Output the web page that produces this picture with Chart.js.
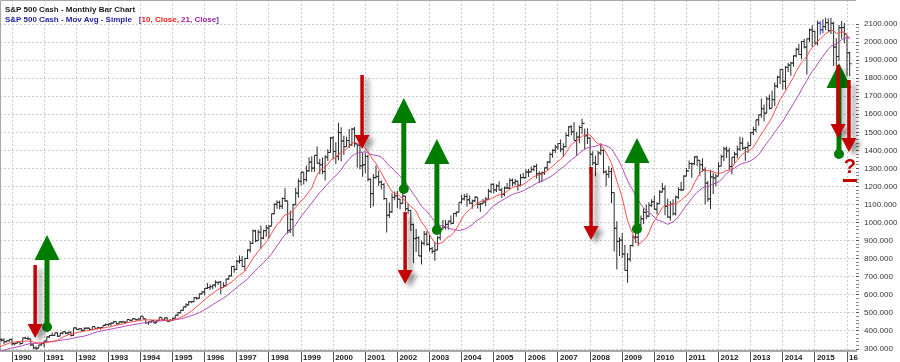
<!DOCTYPE html>
<html lang="en">
<head>
<meta charset="UTF-8">
<title>S&amp;P 500 Cash - Monthly Bar Chart</title>
<script src="https://cdn.jsdelivr.net/npm/chart.js@4.4.0/dist/chart.umd.min.js"></script>
<style>
    body { margin: 0; background: #fff; }
    #wrap { position: relative; width: 900px; height: 362px; }
    #myChart { display: block; }
    #legend {
        position: absolute; left: 5px; top: 5px;
        font: bold 8px 'Liberation Sans', Arial, sans-serif; line-height: 10px;
        white-space: nowrap;
    }
</style>
</head>
<body>
<div id="wrap">
    <canvas id="myChart" width="900" height="362"></canvas>
    <div id="legend">
        <div style="color:#1a1a1a">S&amp;P 500 Cash - Monthly Bar Chart</div>
        <div><span style="color:#1f1f9e">S&amp;P 500 Cash - Mov Avg - Simple</span><span style="margin-left:7px;color:#6a2fa8">[</span><span style="color:#ff1a1a">10, Close, </span><span style="color:#a020a0">21, Close</span><span style="color:#6a2fa8">]</span></div>
    </div>
</div>

<script>
// monthly bars, first one is Nov 1987 (earlier months only feed the averages)
const startYear = 1987, startMonth = 11;

const closes = [
    230.30, 247.08,
    257.07, 267.82, 258.89, 261.33, 262.16, 273.50, 272.02, 261.52, 271.91, 278.97, 273.70, 277.72,
    297.47, 288.86, 294.87, 309.64, 320.52, 317.98, 346.08, 351.45, 349.15, 340.36, 345.99, 353.40,
    329.08, 331.89, 339.94, 330.80, 361.23, 358.02, 356.15, 322.56, 306.05, 304.00, 322.22, 330.22,
    343.93, 367.07, 375.22, 375.35, 389.83, 371.16, 387.81, 395.43, 387.86, 392.45, 375.22, 417.09,
    408.79, 412.70, 403.69, 414.95, 415.35, 408.14, 424.21, 414.03, 417.80, 418.68, 431.35, 435.71,
    438.78, 443.38, 451.67, 440.19, 450.19, 450.53, 448.13, 463.56, 458.93, 467.83, 461.79, 466.45,
    481.61, 467.14, 445.77, 450.91, 456.50, 444.27, 458.26, 475.49, 462.69, 472.35, 453.69, 459.27,
    470.42, 487.39, 500.71, 514.71, 533.40, 544.75, 562.06, 561.88, 584.41, 581.50, 605.37, 615.93,
    636.02, 640.43, 645.50, 654.17, 669.12, 670.63, 639.95, 651.99, 687.31, 705.27, 757.02, 740.74,
    786.16, 790.82, 757.12, 801.34, 848.28, 885.14, 954.29, 899.47, 947.28, 914.62, 955.40, 970.43,
    980.28, 1049.34, 1101.75, 1111.75, 1090.82, 1133.84, 1120.67, 957.28, 1017.01, 1098.67, 1163.63, 1229.23,
    1279.64, 1238.33, 1286.37, 1335.18, 1301.84, 1372.71, 1328.72, 1320.41, 1282.71, 1362.93, 1388.91, 1469.25,
    1394.46, 1366.42, 1498.58, 1452.43, 1420.60, 1454.60, 1430.83, 1517.68, 1436.51, 1429.40, 1314.95, 1320.28,
    1366.01, 1239.94, 1160.33, 1249.46, 1255.82, 1224.42, 1211.23, 1133.58, 1040.94, 1059.78, 1139.45, 1148.08,
    1130.20, 1106.73, 1147.39, 1076.92, 1067.14, 989.82, 911.62, 916.07, 815.28, 885.76, 936.31, 879.82,
    855.70, 841.15, 848.18, 916.92, 963.59, 974.50, 990.31, 1008.01, 995.97, 1050.71, 1058.20, 1111.92,
    1131.13, 1144.94, 1126.21, 1107.30, 1120.68, 1140.84, 1101.72, 1104.24, 1114.58, 1130.20, 1173.82, 1211.92,
    1181.27, 1203.60, 1180.59, 1156.85, 1191.50, 1191.33, 1234.18, 1220.33, 1228.81, 1207.01, 1249.48, 1248.29,
    1280.08, 1280.66, 1294.83, 1310.61, 1270.09, 1270.20, 1276.66, 1303.82, 1335.85, 1377.94, 1400.63, 1418.30,
    1438.24, 1406.82, 1420.86, 1482.37, 1530.62, 1503.35, 1455.27, 1473.99, 1526.75, 1549.38, 1481.14, 1468.36,
    1378.55, 1330.63, 1322.70, 1385.59, 1400.38, 1280.00, 1267.38, 1282.83, 1166.36, 968.75, 896.24, 903.25,
    825.88, 735.09, 797.87, 872.81, 919.14, 919.32, 987.48, 1020.62, 1057.08, 1036.19, 1095.63, 1115.10,
    1073.87, 1104.49, 1169.43, 1186.69, 1089.41, 1030.71, 1101.60, 1049.33, 1141.20, 1183.26, 1180.55, 1257.64,
    1286.12, 1327.22, 1325.83, 1363.61, 1345.20, 1320.64, 1292.28, 1218.89, 1131.42, 1253.30, 1246.96, 1257.60,
    1312.41, 1365.68, 1408.47, 1397.91, 1310.33, 1362.16, 1379.32, 1406.58, 1440.67, 1412.16, 1416.18, 1426.19,
    1498.11, 1514.68, 1569.19, 1597.57, 1630.74, 1606.28, 1685.73, 1632.97, 1681.55, 1756.54, 1805.81, 1848.36,
    1782.59, 1859.45, 1872.34, 1883.95, 1923.57, 1960.23, 1930.67, 2003.37, 1972.29, 2018.05, 2067.56, 2058.90,
    1994.99, 2104.50, 2067.89, 2085.51, 2107.39, 2063.11, 2103.84, 1972.18, 1920.03, 2079.36, 2080.41, 2043.94,
    1940.24, 1880.00
];

const highs = [
    255, 249,
    260, 268, 271, 263, 263, 274, 274, 273, 273, 283, 279, 283,
    298, 300, 298, 310, 323, 326, 346, 354, 359, 360, 347, 354,
    360, 334, 345, 345, 362, 368, 369, 357, 325, 315, 324, 334,
    345, 370, 378, 392, 390, 392, 390, 397, 396, 395, 398, 418,
    421, 414, 414, 419, 420, 418, 425, 425, 423, 419, 431, 442,
    442, 448, 456, 451, 453, 452, 452, 464, 463, 470, 469, 467,
    482, 482, 468, 452, 458, 459, 459, 476, 476, 474, 474, 466,
    472, 489, 503, 515, 534, 553, 564, 565, 587, 587, 609, 622,
    638, 665, 658, 657, 681, 673, 677, 670, 690, 707, 758, 762,
    794, 818, 815, 805, 853, 898, 962, 961, 961, 984, 961, 987,
    987, 1050, 1106, 1124, 1122, 1139, 1190, 1121, 1066, 1104, 1193, 1244,
    1280, 1280, 1316, 1362, 1368, 1373, 1421, 1352, 1361, 1373, 1408, 1474,
    1478, 1445, 1553, 1528, 1481, 1475, 1518, 1525, 1530, 1437, 1432, 1389,
    1384, 1377, 1245, 1269, 1316, 1287, 1233, 1220, 1134, 1111, 1163, 1173,
    1176, 1131, 1173, 1147, 1107, 1070, 994, 965, 925, 900, 954, 954,
    935, 865, 896, 924, 965, 1015, 1015, 1011, 1040, 1054, 1062, 1112,
    1155, 1159, 1163, 1150, 1128, 1146, 1141, 1110, 1131, 1142, 1188, 1217,
    1218, 1212, 1229, 1192, 1200, 1220, 1246, 1245, 1243, 1233, 1270, 1276,
    1295, 1297, 1311, 1319, 1326, 1284, 1283, 1306, 1340, 1389, 1407, 1431,
    1441, 1461, 1439, 1499, 1535, 1540, 1556, 1504, 1538, 1576, 1521, 1523,
    1471, 1396, 1370, 1397, 1440, 1405, 1292, 1314, 1304, 1167, 1007, 919,
    943, 876, 832, 877, 930, 956, 996, 1039, 1080, 1101, 1113, 1130,
    1150, 1113, 1181, 1220, 1206, 1132, 1120, 1130, 1150, 1196, 1227, 1263,
    1302, 1344, 1333, 1367, 1371, 1346, 1357, 1307, 1230, 1293, 1278, 1270,
    1334, 1378, 1420, 1422, 1415, 1363, 1392, 1427, 1475, 1471, 1420, 1448,
    1504, 1531, 1570, 1598, 1687, 1654, 1698, 1710, 1730, 1776, 1814, 1849,
    1851, 1868, 1884, 1891, 1925, 1968, 1991, 2005, 2019, 2019, 2075, 2093,
    2064, 2120, 2117, 2126, 2135, 2130, 2133, 2113, 2021, 2094, 2117, 2105,
    2038, 1947
];

const lows = [
    223, 223,
    243, 250, 256, 252, 253, 260, 263, 256, 261, 271, 264, 271,
    276, 286, 286, 293, 306, 312, 318, 340, 342, 328, 336, 340,
    320, 320, 332, 322, 330, 355, 352, 317, 300, 295, 303, 321,
    309, 341, 363, 372, 372, 367, 371, 380, 383, 377, 370, 372,
    407, 404, 400, 398, 410, 403, 406, 412, 408, 407, 418, 427,
    427, 429, 441, 436, 437, 443, 442, 447, 455, 458, 461, 460,
    464, 466, 438, 435, 444, 443, 444, 457, 460, 455, 449, 451,
    457, 468, 483, 497, 510, 528, 541, 554, 561, 573, 579, 601,
    597, 633, 627, 631, 641, 654, 605, 639, 646, 684, 702, 722,
    736, 774, 756, 733, 799, 834, 881, 892, 898, 855, 908, 922,
    912, 980, 1045, 1077, 1074, 1075, 1114, 940, 943, 923, 1097, 1138,
    1205, 1211, 1228, 1282, 1281, 1282, 1328, 1268, 1268, 1233, 1342, 1387,
    1350, 1325, 1346, 1339, 1374, 1420, 1413, 1425, 1419, 1305, 1294, 1254,
    1275, 1228, 1081, 1091, 1242, 1203, 1183, 1125, 945, 1026, 1054, 1124,
    1081, 1074, 1103, 1063, 1048, 953, 776, 837, 815, 768, 873, 872,
    840, 827, 789, 847, 904, 962, 962, 960, 990, 994, 1032, 1057,
    1105, 1122, 1088, 1105, 1077, 1113, 1078, 1060, 1102, 1090, 1127, 1163,
    1163, 1170, 1176, 1137, 1146, 1188, 1183, 1201, 1206, 1176, 1201, 1245,
    1245, 1253, 1277, 1284, 1245, 1219, 1224, 1264, 1290, 1327, 1360, 1385,
    1403, 1390, 1364, 1416, 1476, 1484, 1455, 1371, 1439, 1489, 1407, 1435,
    1270, 1316, 1257, 1324, 1373, 1272, 1200, 1247, 1107, 840, 741, 815,
    805, 735, 667, 784, 867, 889, 870, 979, 992, 1020, 1030, 1086,
    1071, 1045, 1105, 1167, 1041, 1029, 1011, 1040, 1039, 1131, 1174, 1180,
    1257, 1295, 1249, 1319, 1312, 1259, 1282, 1102, 1115, 1075, 1159, 1202,
    1259, 1312, 1340, 1358, 1292, 1267, 1325, 1355, 1397, 1403, 1343, 1385,
    1426, 1486, 1501, 1537, 1581, 1560, 1604, 1627, 1633, 1646, 1746, 1768,
    1737, 1738, 1834, 1814, 1863, 1915, 1930, 1905, 1964, 1821, 2001, 1973,
    1988, 1981, 2040, 2049, 2067, 2057, 2045, 1867, 1872, 1894, 2020, 1993,
    1812, 1810
];

const yearLabels = ['1990', '1991', '1992', '1993', '1994', '1995', '1996', '1997', '1998',
    '1999', '2000', '2001', '2002', '2003', '2004', '2005', '2006', '2007', '2008', '2009',
    '2010', '2011', '2012', '2013', '2014', '2015', '16'];

// annotation arrows: [decimal year, start value, end value]
const greenArrows = [
    [1991.09, 422, 931], [2002.20, 1186, 1690], [2003.23, 959, 1463],
    [2009.46, 965, 1469], [2015.75, 1380, 1884]
];
const redArrows = [
    [1990.72, 765, 361], [2000.90, 1818, 1408], [2002.24, 1059, 660],
    [2008.03, 1308, 904], [2015.72, 1873, 1469], [2016.06, 1790, 1391]
];
const questionMark = [2016.09, 1308];
const highlightBar = '2015-03';

function monthX(i) {
    return startYear + (startMonth - 1 + i) / 12;
}
function sma(values, n) {
    let out = [];
    for (let i = n - 1; i < values.length; i++) {
        let s = 0;
        for (let k = i - n + 1; k <= i; k++) s += values[k];
        out.push({x: monthX(i), y: s / n});
    }
    return out;
}
const hl = highlightBar.split('-');
const hlIndex = (+hl[0] - startYear) * 12 + (+hl[1] - startMonth);

const barData = highs.map((h, i) => ({x: monthX(i), y: [lows[i], h]}));
const isWhole = v => Math.abs(v - Math.round(v)) < 1e-6;
const inRange = v => v % 100 === 0 && v >= 300 && v <= 2100;

// open / close ticks on each bar
const ohlcTicks = {
    id: 'ohlcTicks',
    afterDatasetDraw(chart, args) {
        if (args.index !== 0) return;
        const c = chart.ctx, xs = chart.scales.x, ys = chart.scales.y;
        const a = chart.chartArea;
        c.save();
        c.beginPath();
        c.rect(a.left, a.top, a.right - a.left, a.bottom - a.top);
        c.clip();
        c.lineWidth = 1;
        for (let i = 0; i < closes.length; i++) {
            const x = xs.getPixelForValue(monthX(i));
            const open = i > 0 ? closes[i - 1] : closes[i];
            const yo = ys.getPixelForValue(open), yc = ys.getPixelForValue(closes[i]);
            c.strokeStyle = i === hlIndex ? '#2f3cff' : '#2a2a2a';
            c.beginPath();
            c.moveTo(x - 2, yo); c.lineTo(x, yo);
            c.moveTo(x, yc); c.lineTo(x + 2, yc);
            c.stroke();
        }
        c.restore();
    }
};

// frame on the left and top of the plot
const frame = {
    id: 'frame',
    beforeDatasetsDraw(chart) {
        const c = chart.ctx, a = chart.chartArea;
        c.save();
        c.strokeStyle = '#a8a8a8';
        c.lineWidth = 1;
        c.beginPath();
        c.moveTo(a.left + 0.5, a.bottom);
        c.lineTo(a.left + 0.5, a.top + 0.5);
        c.lineTo(a.right, a.top + 0.5);
        c.stroke();
        c.restore();
    }
};

// hand drawn arrows
const arrows = {
    id: 'arrows',
    afterDatasetsDraw(chart) {
        const c = chart.ctx, xs = chart.scales.x, ys = chart.scales.y;
        c.save();
        greenArrows.forEach(g => {
            const x = xs.getPixelForValue(g[0]);
            const y0 = ys.getPixelForValue(g[1]), y1 = ys.getPixelForValue(g[2]);
            c.fillStyle = '#007c00';
            c.fillRect(x - 2.5, y1 + 20, 5, y0 - y1 - 20);
            c.beginPath();
            c.moveTo(x, y1);
            c.lineTo(x + 12.5, y1 + 25);
            c.lineTo(x - 12.5, y1 + 25);
            c.closePath();
            c.fill();
            c.beginPath();
            c.arc(x, y0, 5, 0, Math.PI * 2);
            c.fill();
        });
        redArrows.forEach(r => {
            const x = xs.getPixelForValue(r[0]);
            const y0 = ys.getPixelForValue(r[1]), y1 = ys.getPixelForValue(r[2]);
            c.shadowColor = 'rgba(0,0,0,0.4)';
            c.shadowBlur = 5;
            c.shadowOffsetX = 5;
            c.shadowOffsetY = 4;
            c.fillStyle = '#c40000';
            c.beginPath();
            c.rect(x - 1.75, y0, 3.5, y1 - y0 - 12);
            c.moveTo(x - 7.5, y1 - 14);
            c.lineTo(x + 7.5, y1 - 14);
            c.lineTo(x, y1);
            c.closePath();
            c.fill();
        });
        c.shadowColor = 'transparent';
        const qx = xs.getPixelForValue(questionMark[0]), qy = ys.getPixelForValue(questionMark[1]);
        c.fillStyle = '#c40000';
        c.font = 'bold 20px "Liberation Sans", Arial, sans-serif';
        c.textAlign = 'center';
        c.textBaseline = 'middle';
        c.fillText('?', qx, qy);
        c.fillRect(qx - 7, qy + 12, 14, 3);
        c.restore();
    }
};

const ctx = document.getElementById('myChart').getContext('2d');
const myChart = new Chart(ctx, {
    type: 'bar',
    data: {
        datasets: [{
            type: 'bar',
            data: barData,
            barThickness: 1,
            inflateAmount: 0,
            grouped: false,
            borderWidth: 0,
            backgroundColor: c => c.dataIndex === hlIndex ? '#2f3cff' : '#2a2a2a',
            order: 3
        }, {
            type: 'line',
            data: sma(closes, 10),
            borderColor: '#ff4a4a',
            borderWidth: 1,
            pointRadius: 0,
            tension: 0,
            order: 1
        }, {
            type: 'line',
            data: sma(closes, 21),
            borderColor: '#b048b8',
            borderWidth: 1,
            pointRadius: 0,
            tension: 0,
            order: 2
        }]
    },
    options: {
        responsive: false,
        animation: false,
        devicePixelRatio: 1,
        layout: { padding: 0 },
        plugins: { legend: { display: false }, tooltip: { enabled: false } },
        scales: {
            x: {
                type: 'linear',
                min: 1989.626,
                max: 2016.28,
                offset: false,
                afterFit: s => { s.height = 11; s.paddingLeft = 0; s.paddingRight = 0; },
                grid: {
                    offset: false,
                    color: c => c.tick && isWhole(c.tick.value) ? '#cdcdcd' : 'transparent',
                    tickColor: c => c.tick && isWhole(c.tick.value) ? '#555' : 'transparent',
                    tickLength: 11
                },
                border: { display: true, color: '#a8a8a8', width: 2, dash: [2, 2] },
                ticks: {
                    stepSize: 1,
                    includeBounds: false,
                    autoSkip: false,
                    maxRotation: 0,
                    align: 'start',
                    labelOffset: 2,
                    padding: -9,
                    color: '#222',
                    font: { family: 'Liberation Sans', size: 8, weight: 'bold' },
                    callback: v => isWhole(v) ? (yearLabels[Math.round(v) - 1990] || '') : ''
                }
            },
            y: {
                position: 'right',
                min: 289,
                max: 2233,
                afterFit: s => { s.width = 44; s.paddingTop = 0; s.paddingBottom = 0; },
                grid: {
                    color: c => c.tick && inRange(c.tick.value) ? '#cdcdcd' : 'transparent',
                    tickColor: c => c.tick && c.tick.value >= 300 && c.tick.value <= 2100 ? (c.tick.value % 100 === 0 ? '#555' : '#888') : 'transparent',
                    tickLength: 3
                },
                border: { display: false, dash: [2, 2] },
                ticks: {
                    stepSize: 20,
                    includeBounds: false,
                    autoSkip: false,
                    padding: 5,
                    color: '#333',
                    font: { family: 'Liberation Sans', size: 8 },
                    callback: v => inRange(v) ? v.toFixed(3) : ''
                }
            }
        }
    },
    plugins: [frame, ohlcTicks, arrows]
});
</script>
</body>
</html>
